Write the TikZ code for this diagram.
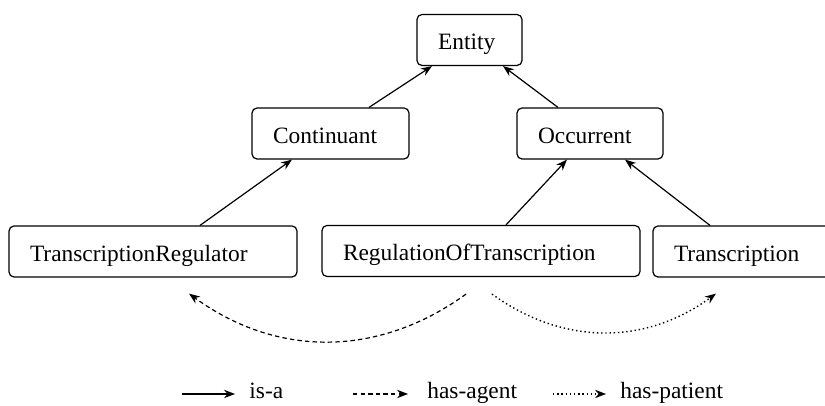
\documentclass[tikz,border=0pt]{standalone}
\usepackage{fontspec}
\setmainfont{Liberation Serif}
\usepackage{tikz}
\usetikzlibrary{arrows.meta, positioning}

\begin{document}
\begin{tikzpicture}[x=0.5pt, y=0.5pt,
  concept/.style={draw, rounded corners=2.5pt, line width=0.6pt, align=left,
    inner xsep=10.5pt, minimum height=25.5pt, text height=10pt, text depth=0pt,
    font=\fontsize{11.7}{14}\selectfont},
  isa/.style={-{Stealth[length=5.5pt, width=4.2pt]}, line width=0.6pt},
  agent/.style={isa, dash pattern=on 2.2pt off 1.6pt},
  patient/.style={isa, line width=0.7pt, dash pattern=on 0.7pt off 1.4pt},
  legend/.style={inner sep=0pt, anchor=base west, font=\fontsize{11.7}{14}\selectfont}]
  \clip (0,0) rectangle (825,406);

  % Concepts
  \node[concept, text width=31.5pt] (entity) at (469.5,366) {Entity};
  \node[concept, text width=57.5pt] (cont) at (330.5,272.5) {Continuant};
  \node[concept, text width=52pt] (occ) at (590,272.5) {Occurrent};
  \node[concept, text width=123pt] (treg) at (153,154.5) {TranscriptionRegulator};
  \node[concept, text width=138pt] (regtr) at (481,155) {RegulationOfTranscription};
  \node[concept, text width=76pt] (trans) at (750,154.5) {Transcription};

  % is-a links
  \draw[isa] ([xshift=19.25pt]cont.north) -- ([xshift=-18.75pt]entity.south);
  \draw[isa] ([xshift=-16pt]occ.north) -- ([xshift=16.75pt]entity.south);
  \draw[isa] ([xshift=23.5pt]treg.north) -- ([xshift=-19.25pt]cont.south);
  \draw[isa] ([xshift=12.5pt]regtr.north) -- ([xshift=-11.5pt]occ.south);
  \draw[isa] ([xshift=-20pt]trans.north) -- ([xshift=17.5pt]occ.south);

  % Roles
  \draw[agent] ([xshift=-7.5pt, yshift=-8.5pt]regtr.south)
    to[bend left=36] ([xshift=18pt, yshift=-8pt]treg.south);
  \draw[patient] ([xshift=5.5pt, yshift=-8.5pt]regtr.south)
    to[bend right=36] ([xshift=-17pt, yshift=-8pt]trans.south);

  % Legend
  \node[legend] (isa-l) at (249,7) {is-a};
  \node[legend] (agent-l) at (427,7) {has-agent};
  \node[legend] (patient-l) at (620,7) {has-patient};
  \coordinate (isa-s) at (182,12);
  \coordinate (agent-s) at (353,12);
  \coordinate (patient-s) at (553,12);
  \draw[isa] (isa-s) -- ([xshift=-7pt, yshift=2.5pt]isa-l.base west);
  \draw[agent] (agent-s) -- ([xshift=-9.5pt, yshift=2.5pt]agent-l.base west);
  \draw[patient] (patient-s) -- ([xshift=-7pt, yshift=2.5pt]patient-l.base west);
\end{tikzpicture}
\end{document}
